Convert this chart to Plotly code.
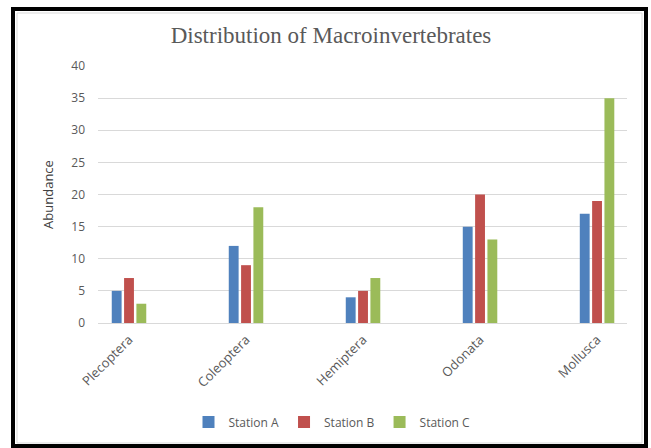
import plotly.graph_objects as go

# Abundance of macroinvertebrate groups at three sampling stations
taxa = ["Plecoptera", "Coleoptera", "Hemiptera", "Odonata", "Mollusca"]
station_a = [5, 12, 4, 15, 17]
station_b = [7, 9, 5, 20, 19]
station_c = [3, 18, 7, 13, 35]
series_names = ["Station A", "Station B", "Station C"]
series_colors = ["#4F81BD", "#C0504D", "#9BBB59"]
y_ticks = [0, 5, 10, 15, 20, 25, 30, 35, 40]

W, H = 651, 448
ML, MR, MT, MB = 98, 24, 66, 125
PW, PH = W - ML - MR, H - MT - MB


def px_x(p):
    return (p - ML) / PW


def px_y(p):
    return (H - MB - p) / PH


fig = go.Figure()
for name, vals, col in zip(series_names, [station_a, station_b, station_c], series_colors):
    fig.add_trace(go.Bar(x=taxa, y=vals, name=name, marker=dict(color=col, line=dict(width=0))))

grey = "#595959"
fig.update_layout(
    width=W, height=H,
    margin=dict(l=ML, r=MR, t=MT, b=MB),
    paper_bgcolor="white", plot_bgcolor="white",
    barmode="group", bargap=0.684, bargroupgap=0.2,
    font=dict(family="Open Sans, sans-serif", size=11, color=grey),
    title=dict(text="Distribution of Macroinvertebrates",
               font=dict(family="Liberation Serif, Times New Roman, serif", size=23, color=grey),
               x=331 / W, xref="container", xanchor="center",
               y=1 - 35 / H, yref="container", yanchor="middle"),
    xaxis=dict(type="category", range=[-0.265, 4.256], tickangle=-45,
               showgrid=False, showline=True, linecolor="#d9d9d9", linewidth=1,
               ticks="outside", ticklen=3, tickcolor="rgba(0,0,0,0)",
               tickfont=dict(size=13, color=grey)),
    yaxis=dict(range=[0, 40], tickvals=y_ticks, showgrid=True, gridcolor="#d9d9d9",
               gridwidth=1, zeroline=False, showline=False, ticks="",
               ticklabelstandoff=12, tickfont=dict(size=12, color=grey),
               title=dict(text="Abundance", standoff=14,
                          font=dict(size=13, color="#404040"))),
    legend=dict(orientation="h", xref="container", yref="container",
                x=332 / W, xanchor="center", y=1 - 422 / H, yanchor="middle",
                font=dict(size=12, color=grey), itemwidth=30, traceorder="normal"),
    showlegend=True,
)

# chart frame: thick black outer border with a thin grey inner border
fig.add_shape(type="rect", xref="paper", yref="paper",
              x0=px_x(13), x1=px_x(646), y0=px_y(446), y1=px_y(9),
              line=dict(color="black", width=4), fillcolor="rgba(0,0,0,0)", layer="above")
fig.add_shape(type="rect", xref="paper", yref="paper",
              x0=px_x(17), x1=px_x(642), y0=px_y(443), y1=px_y(13),
              line=dict(color="#d9d9d9", width=1), fillcolor="rgba(0,0,0,0)", layer="above")

fig.write_html("out.html")
